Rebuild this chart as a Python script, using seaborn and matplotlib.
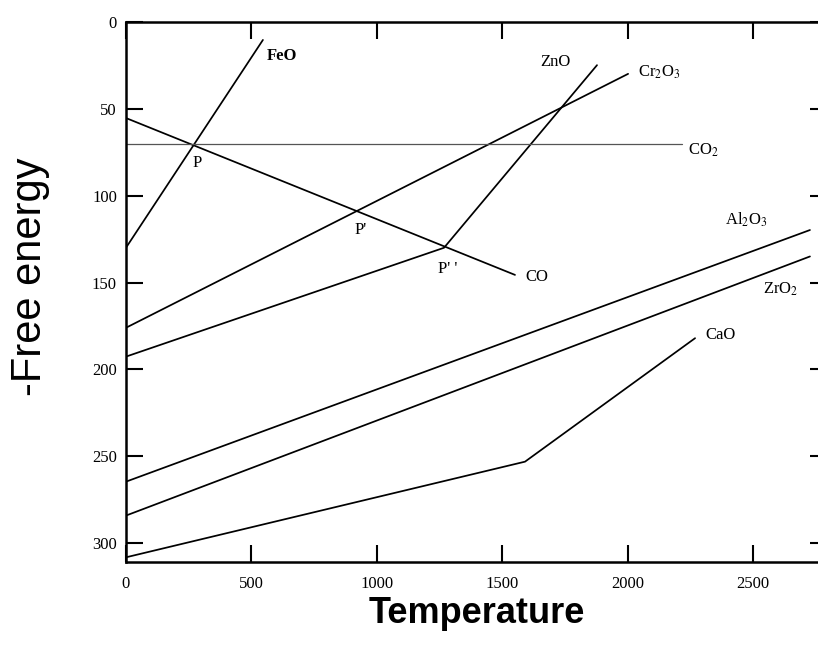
import matplotlib
matplotlib.use("Agg")
import matplotlib.pyplot as plt
import seaborn as sns
import pandas as pd

# ---- data (temperature, -free energy) ----
feo_t = [0, 546]
feo_e = [130, 10.5]
co_t = [0, 1551]
co_e = [55.4, 145.6]
co2_t = [0, 2215]
co2_e = [70.5, 70.5]
cr2o3_t = [0, 2002]
cr2o3_e = [176, 30]
zno_t = [0, 1268, 1878]
zno_e = [192.6, 130, 25]
al2o3_t = [0, 2727]
al2o3_e = [264.5, 119.8]
zro2_t = [0, 2727]
zro2_e = [284, 135]
cao_t = [0, 1591, 2269]
cao_e = [308, 253, 182]

series = {
    "FeO": (feo_t, feo_e),
    "CO": (co_t, co_e),
    "Cr2O3": (cr2o3_t, cr2o3_e),
    "ZnO": (zno_t, zno_e),
    "Al2O3": (al2o3_t, al2o3_e),
    "ZrO2": (zro2_t, zro2_e),
    "CaO": (cao_t, cao_e),
}

labels = [
    ("FeO", 562, 20, "bold"),
    ("ZnO", 1651, 23, "normal"),
    ("Cr$_2$O$_3$", 2041, 29, "normal"),
    ("CO$_2$", 2241, 74, "normal"),
    ("Al$_2$O$_3$", 2388, 114, "normal"),
    ("ZrO$_2$", 2540, 154, "normal"),
    ("CO", 1591, 147, "normal"),
    ("CaO", 2309, 180, "normal"),
    ("P", 267, 81, "normal"),
    ("P'", 913, 120, "normal"),
    ("P' '", 1244, 142, "normal"),
]

x_ticks = [0, 500, 1000, 1500, 2000, 2500]
y_ticks = [0, 50, 100, 150, 200, 250, 300]

# ---- build frame ----
rows = []
for name, (ts, es) in series.items():
    for t, e in zip(ts, es):
        rows.append({"series": name, "Temperature": t, "Energy": e})
df = pd.DataFrame(rows)
df_co2 = pd.DataFrame({"series": "CO2", "Temperature": co2_t, "Energy": co2_e})

sns.set_theme(style="ticks")
plt.rcParams["font.family"] = ["Liberation Serif", "DejaVu Serif"]
plt.rcParams["mathtext.fontset"] = "stix"
plt.rcParams["text.color"] = "black"
plt.rcParams["axes.labelcolor"] = "black"

fig = plt.figure(figsize=(8.18, 6.59), dpi=100)
ax = fig.add_axes([0.154, 0.1477, 0.857, 0.8194])

sns.lineplot(data=df, x="Temperature", y="Energy", units="series",
             estimator=None, sort=False, color="black", linewidth=1.25, ax=ax)
sns.lineplot(data=df_co2, x="Temperature", y="Energy", estimator=None,
             sort=False, color="#555555", linewidth=0.9, ax=ax)

ax.set_xlim(0, 2795)
ax.set_ylim(310.5, 0)
ax.set_xticks(x_ticks)
ax.set_yticks(y_ticks)
ax.tick_params(direction="in", length=12, width=1.5, top=True, right=True,
               labelsize=12, colors="black")
ax.tick_params(axis="x", pad=10.5)
ax.tick_params(axis="y", pad=6.5)
for s in ax.spines.values():
    s.set_linewidth(1.8)
    s.set_color("black")

for txt, x, y, w in labels:
    ax.text(x, y, txt, fontsize=12, fontweight=w, ha="left", va="center",
            color="black")

ax.set_ylabel("-Free energy", family=["Liberation Sans", "DejaVu Sans"],
              fontsize=30, color="black")
ax.yaxis.set_label_coords(-0.108, 0.527)
ax.set_xlabel("Temperature", family=["Liberation Sans", "DejaVu Sans"],
              fontsize=26, fontweight="bold", color="black")
ax.xaxis.set_label_coords(0.501, -0.064)

fig.savefig("out.png", dpi=100)
